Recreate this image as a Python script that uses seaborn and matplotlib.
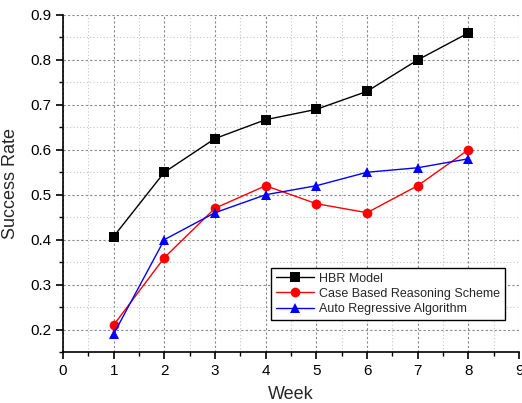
import matplotlib
matplotlib.use('Agg')
import matplotlib.pyplot as plt
from matplotlib.ticker import MultipleLocator
import pandas as pd
import seaborn as sns

# ---------- data ----------
weeks = [1, 2, 3, 4, 5, 6, 7, 8]
hbr_model = [0.407, 0.55, 0.625, 0.667, 0.69, 0.73, 0.80, 0.86]
case_based = [0.21, 0.36, 0.47, 0.52, 0.48, 0.46, 0.52, 0.60]
auto_regressive = [0.19, 0.40, 0.46, 0.50, 0.52, 0.55, 0.56, 0.58]
series_names = ['HBR Model', 'Case Based Reasoning Scheme', 'Auto Regressive Algorithm']

df = pd.DataFrame({'Week': weeks * 3,
                   'Success Rate': hbr_model + case_based + auto_regressive,
                   'Method': [n for n in series_names for _ in weeks]})

sns.set_style('white')
plt.rcParams['font.family'] = ['Liberation Sans', 'DejaVu Sans']

fig = plt.figure(figsize=(5.22, 4.03), dpi=100)
ax = fig.add_axes([0.1207, 0.1266, 0.8736, 0.8362])

ax.xaxis.set_major_locator(MultipleLocator(1))
ax.xaxis.set_minor_locator(MultipleLocator(0.5))
ax.yaxis.set_major_locator(MultipleLocator(0.1))
ax.yaxis.set_minor_locator(MultipleLocator(0.05))
ax.grid(True, which='major', color='#888888', linestyle=(0, (2, 2)), linewidth=0.8)
ax.grid(True, which='minor', color='#c4c4c4', linestyle=(0, (1, 2)), linewidth=0.8)
ax.set_axisbelow(True)

sns.lineplot(data=df, x='Week', y='Success Rate', hue='Method', style='Method',
             palette={'HBR Model': 'black', 'Case Based Reasoning Scheme': 'red',
                      'Auto Regressive Algorithm': 'blue'},
             markers={'HBR Model': 's', 'Case Based Reasoning Scheme': 'o',
                      'Auto Regressive Algorithm': '^'},
             dashes=False, markersize=7, markeredgewidth=0, linewidth=1, ax=ax)

ax.set_xlim(0, 9)
ax.set_ylim(0.15, 0.9)
ax.set_yticks([0.2, 0.3, 0.4, 0.5, 0.6, 0.7, 0.8, 0.9])
ax.set_yticklabels(['0.2', '0.3', '0.4', '0.5', '0.6', '0.7', '0.8', '0.9'])

for s in ['top', 'right']:
    ax.spines[s].set_visible(False)
for s in ['left', 'bottom']:
    ax.spines[s].set_color('black')
    ax.spines[s].set_linewidth(1.2)

ax.tick_params(which='major', direction='out', length=5, width=1.2, colors='black',
               labelsize=11, left=True, bottom=True)
ax.tick_params(which='minor', direction='out', length=3, width=1, colors='black',
               left=True, bottom=True)

ax.set_xlabel('Week', fontsize=13, labelpad=6)
ax.set_ylabel('Success Rate', fontsize=13, labelpad=8)

leg = ax.legend(loc='lower right', bbox_to_anchor=(0.969, 0.095), fontsize=9,
                frameon=True, fancybox=False, framealpha=1, edgecolor='black',
                borderpad=0.4, labelspacing=0.25, handlelength=3, handletextpad=0.4,
                borderaxespad=0, markerscale=1)
leg.get_frame().set_linewidth(1)

fig.savefig('out.png', dpi=100)
